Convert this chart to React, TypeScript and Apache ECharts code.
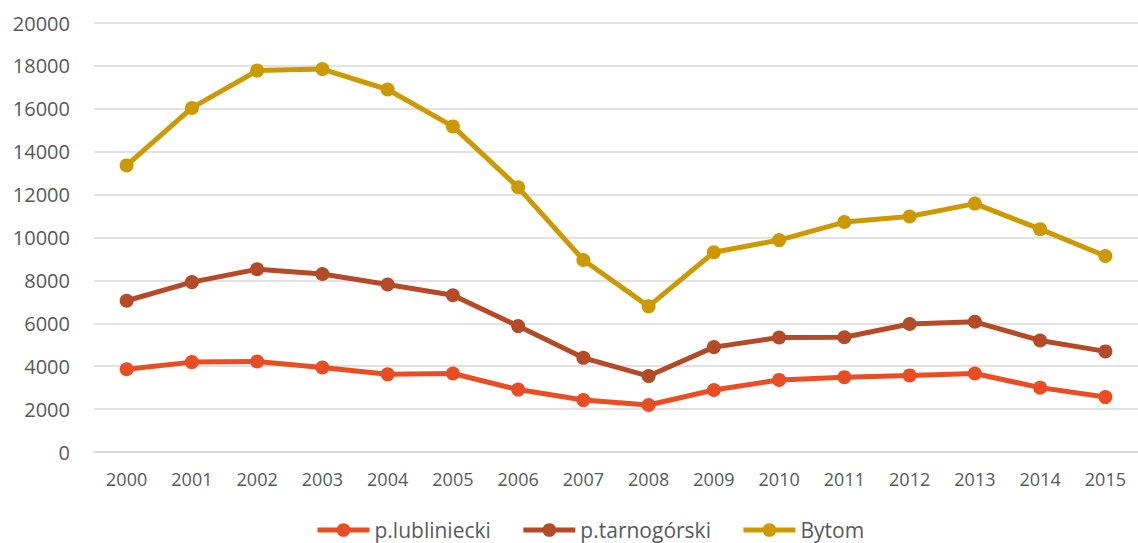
import React, { useEffect, useRef } from "react";
import * as echarts from "echarts";

const years = ["2000", "2001", "2002", "2003", "2004", "2005", "2006", "2007", "2008", "2009", "2010", "2011", "2012", "2013", "2014", "2015"];
const lubliniecki = [3860, 4190, 4220, 3940, 3620, 3660, 2910, 2420, 2190, 2890, 3360, 3490, 3570, 3660, 3000, 2560];
const tarnogorski = [7050, 7920, 8520, 8300, 7810, 7310, 5870, 4390, 3540, 4890, 5340, 5350, 5970, 6070, 5200, 4690];
const bytom = [13360, 16040, 17780, 17850, 16900, 15180, 12340, 8950, 6790, 9310, 9880, 10720, 10980, 11580, 10390, 9140];
const seriesNames = ["p.lubliniecki", "p.tarnogórski", "Bytom"];
const seriesColors = ["#E84D24", "#B44A28", "#CC9A00"];

export default function App() {
  const ref = useRef<HTMLDivElement>(null);
  useEffect(() => {
    if (!ref.current) return;
    const chart = echarts.init(ref.current, null, { renderer: "svg" });
    const font = "'Open Sans', sans-serif";
    const values = [lubliniecki, tarnogorski, bytom];
    chart.setOption({
      animation: false,
      backgroundColor: "#ffffff",
      grid: { left: 94, right: -12, top: 23, bottom: 91 },
      legend: {
        left: 315,
        top: 517,
        itemWidth: 52,
        itemHeight: 17,
        itemGap: 30,
        padding: 0,
        lineStyle: { width: 5 },
        textStyle: { color: "#595959", fontSize: 21, fontFamily: font, lineHeight: 26 },
        data: seriesNames,
      },
      xAxis: {
        type: "category",
        data: years,
        boundaryGap: true,
        axisLine: { lineStyle: { color: "#D9D9D9", width: 1.5 } },
        axisTick: { show: false },
        axisLabel: { color: "#595959", fontSize: 18, fontFamily: font, margin: 18 },
      },
      yAxis: {
        type: "value",
        min: 0,
        max: 20000,
        interval: 2000,
        axisLine: { show: false },
        axisTick: { show: false },
        splitLine: { lineStyle: { color: "#D9D9D9", width: 1.5 } },
        axisLabel: {
          color: "#595959",
          fontSize: 20,
          fontFamily: font,
          margin: 24,
          formatter: (v: number) => String(v),
        },
      },
      series: values.map((d, i) => ({
        name: seriesNames[i],
        type: "line",
        data: d,
        symbol: "circle",
        symbolSize: 14,
        color: seriesColors[i],
        lineStyle: { width: 5, color: seriesColors[i] },
        itemStyle: { color: seriesColors[i] },
      })),
    });
    return () => chart.dispose();
  }, []);
  return <div ref={ref} style={{ position: "fixed", left: 0, top: 0, width: 1138, height: 543 }} />;
}
